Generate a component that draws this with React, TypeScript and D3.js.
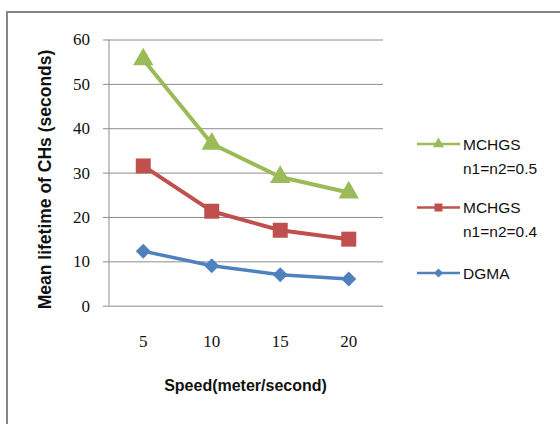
import * as d3 from "d3";
import { useEffect, useRef } from "react";

// chart data
const speeds = ["5", "10", "15", "20"];
const mchgs05 = [55.5, 36.5, 29, 25.5];
const mchgs04 = [31.5, 21.3, 17, 15];
const dgma = [12.3, 9, 7, 6];
const yTicks = [0, 10, 20, 30, 40, 50, 60];

const seriesNames = [
  ["MCHGS", "n1=n2=0.5"],
  ["MCHGS", "n1=n2=0.4"],
  ["DGMA"],
];

const App = () => {
  const ref = useRef<SVGSVGElement>(null);

  useEffect(() => {
    const svg = d3.select(ref.current);
    svg.selectAll("*").remove();

    const W = 560;
    const H = 424;
    const left = 109, right = 383, top = 39.5, bottom = 305.7;

    const xScale = d3.scaleBand().domain(speeds).range([left, right]);
    const yScale = d3.scaleLinear().domain([0, 60]).range([bottom, top]);
    const cx = (d: string) => (xScale(d) as number) + xScale.bandwidth() / 2;

    // outer frame
    svg.append("rect")
      .attr("x", 7).attr("y", 12)
      .attr("width", W + 20).attr("height", H + 20)
      .attr("fill", "white")
      .attr("stroke", "#868686")
      .attr("stroke-width", 2);

    // grid + y ticks
    svg.append("g")
      .attr("transform", `translate(${left},0)`)
      .call(d3.axisLeft(yScale).tickValues(yTicks).tickSize(-(right - left)).tickFormat(() => ""))
      .call(g => g.select(".domain").remove())
      .call(g => g.selectAll("line").attr("stroke", "#8c8c8c").attr("x1", -6));

    svg.append("g")
      .selectAll("text")
      .data(yTicks)
      .join("text")
      .attr("x", 90)
      .attr("y", d => yScale(d))
      .attr("dy", "0.35em")
      .attr("text-anchor", "end")
      .attr("font-family", "Liberation Serif")
      .attr("font-size", 17)
      .attr("fill", "#111")
      .text(d => d);

    // y axis line
    svg.append("line")
      .attr("x1", left).attr("x2", left)
      .attr("y1", top).attr("y2", bottom)
      .attr("stroke", "#8c8c8c");

    // x labels
    svg.append("g")
      .attr("transform", `translate(0,${bottom})`)
      .call(d3.axisBottom(xScale).tickSize(0).tickPadding(29))
      .call(g => g.select(".domain").remove())
      .call(g => g.selectAll("text")
        .attr("font-family", "Liberation Serif")
        .attr("font-size", 17)
        .attr("fill", "#111"));

    const series = [
      { values: mchgs05, color: "#9BBB59", shape: "triangle", width: 4 },
      { values: mchgs04, color: "#C0504D", shape: "square", width: 4 },
      { values: dgma, color: "#4F81BD", shape: "diamond", width: 3.5 },
    ];

    const marker = (shape: string, s: number) => {
      if (shape === "triangle") return d3.symbol(d3.symbolTriangle, s * s * 0.45)();
      if (shape === "square") return d3.symbol(d3.symbolSquare, s * s)();
      return d3.symbol(d3.symbolSquare, s * s * 0.5)();
    };

    const line = d3.line<number>()
      .x((d, i) => cx(speeds[i]))
      .y(d => yScale(d));

    series.forEach(s => {
      svg.append("path")
        .datum(s.values)
        .attr("d", line)
        .attr("fill", "none")
        .attr("stroke", s.color)
        .attr("stroke-width", s.width)
        .attr("stroke-linejoin", "round");

      svg.append("g")
        .selectAll("path")
        .data(s.values)
        .join("path")
        .attr("d", marker(s.shape, s.shape === "triangle" ? 20 : s.shape === "square" ? 15 : 15) as string)
        .attr("transform", (d, i) =>
          `translate(${cx(speeds[i])},${yScale(d)})` + (s.shape === "diamond" ? " rotate(45)" : ""))
        .attr("fill", s.color);
    });

    // legend
    const legendY = [144, 207.5, 273];
    series.forEach((s, i) => {
      const g = svg.append("g").attr("transform", `translate(0,${legendY[i]})`);
      g.append("line")
        .attr("x1", 417).attr("x2", 460)
        .attr("stroke", s.color).attr("stroke-width", 2.5);
      g.append("path")
        .attr("d", marker(s.shape, s.shape === "triangle" ? 11 : s.shape === "square" ? 8 : 9) as string)
        .attr("transform", `translate(438.5,0)` + (s.shape === "diamond" ? " rotate(45)" : ""))
        .attr("fill", s.color);
      g.selectAll("text")
        .data(seriesNames[i])
        .join("text")
        .attr("x", 463)
        .attr("y", (d, j) => 5.5 + j * 24)
        .attr("font-family", "Liberation Sans")
        .attr("font-size", 15.5)
        .attr("fill", "#111")
        .text(d => d);
    });

    // axis titles
    svg.append("text")
      .attr("x", 245.5).attr("y", 391)
      .attr("text-anchor", "middle")
      .attr("font-family", "Liberation Sans")
      .attr("font-weight", "bold")
      .attr("font-size", 16)
      .attr("fill", "#111")
      .text("Speed(meter/second)");

    svg.append("text")
      .attr("transform", "translate(51,179.5) rotate(-90)")
      .attr("text-anchor", "middle")
      .attr("font-family", "Liberation Sans")
      .attr("font-weight", "bold")
      .attr("font-size", 17.5)
      .attr("fill", "#111")
      .text("Mean lifetime of CHs (seconds)");
  }, []);

  return (
    <div style={{ position: "absolute", left: 0, top: 0 }}>
      <svg ref={ref} width={560} height={424} style={{ display: "block" }} />
    </div>
  );
};

export default App;
